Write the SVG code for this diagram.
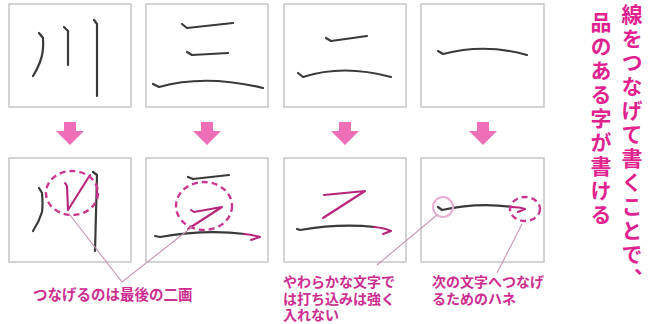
<svg xmlns="http://www.w3.org/2000/svg" width="650" height="324" viewBox="0 0 650 324">
<defs>
<style>
.box{fill:#fff;stroke:#c9c9c9;stroke-width:1.6}
.ink{fill:none;stroke:#3a3a3a;stroke-width:2.2;stroke-linecap:round;stroke-linejoin:round}
.pk{fill:none;stroke:#b8257c;stroke-width:2.1;stroke-linecap:round;stroke-linejoin:round}
.dash{fill:none;stroke:#c8388e;stroke-width:2.4;stroke-dasharray:6 4}
.ring{fill:none;stroke:#e7aed0;stroke-width:2}
.lead{fill:none;stroke:#c795b6;stroke-width:1.1}
.arrow{fill:#ee6fb8}
.lbl{font-family:"Noto Sans CJK JP","Noto Sans",sans-serif;font-size:14px;font-weight:700;fill:#cc2d90}
.lbl1{font-family:"Noto Sans CJK JP","Noto Sans",sans-serif;font-size:14.5px;font-weight:700;fill:#cc2d90}
.title{font-family:"Noto Sans CJK JP","Noto Sans",sans-serif;font-size:21px;font-weight:700;fill:#e0228f;writing-mode:vertical-rl;letter-spacing:3px}
</style>
<g id="downArrow"><rect x="-6" y="0" width="12" height="10" class="arrow"/><polygon points="-14,9 14,9 0,23" class="arrow"/></g>
</defs>
<rect width="650" height="324" fill="#fff"/>

<!-- top row -->
<g id="top1">
<rect class="box" x="9" y="4" width="122" height="103"/>
<path class="ink" d="M39,33 L43,38 Q44,52 40,62 Q37,70 33,76"/>
<path class="ink" d="M64,27 L68,31 L68,65"/>
<path class="ink" d="M94,20 L97,24 L97,96"/>
</g>
<g id="top2">
<rect class="box" x="146" y="4" width="122" height="103"/>
<path class="ink" d="M182,24 L187,28 L233,23"/>
<path class="ink" d="M187,52 L192,55 L228,53"/>
<path class="ink" d="M153,84 L159,87 Q205,74 263,88"/>
</g>
<g id="top3">
<rect class="box" x="284" y="4" width="122" height="103"/>
<path class="ink" d="M326,38 L331,41 L367,36"/>
<path class="ink" d="M298,73 L303,77 Q343,64 391,77"/>
</g>
<g id="top4">
<rect class="box" x="421" y="4" width="123" height="103"/>
<path class="ink" d="M438,51 L443,54 Q485,43 527,55"/>
</g>

<!-- arrows -->
<g id="arrows">
<use href="#downArrow" x="70" y="122"/>
<use href="#downArrow" x="207" y="122"/>
<use href="#downArrow" x="345" y="122"/>
<use href="#downArrow" x="483" y="122"/>
</g>

<!-- bottom row -->
<g id="bottom1">
<rect class="box" x="9" y="158" width="122" height="104"/>
<path class="ink" d="M39,188 L42,193 Q43,205 42,212 Q39,222 33,231"/>
<path class="pk" d="M65,183 L67,186 L68,210 L90,175"/>
<path class="ink" d="M93,172 L97,175 L95,251"/>
<path class="pk" d="M97,188 L97,196" stroke-width="1.5"/>
<ellipse class="dash" cx="72" cy="193" rx="26" ry="22"/>
</g>
<g id="bottom2">
<rect class="box" x="146" y="158" width="122" height="104"/>
<path class="ink" d="M188,177 L193,179 L229,175"/>
<path class="pk" d="M191,210 L194,212 L222,207 L188,229"/>
<path class="ink" d="M155,236 L160,237 Q205,229 245,234"/>
<path class="pk" d="M244,234 Q253,235 260,237 L251,240"/>
<ellipse class="dash" cx="204" cy="206" rx="28" ry="24"/>
</g>
<g id="bottom3">
<rect class="box" x="284" y="158" width="122" height="104"/>
<path class="pk" d="M324,195 L365,191 L323,218"/>
<path class="ink" d="M297,229 L300,230 Q340,223 375,227"/>
<path class="pk" d="M374,227 Q385,228 391,231 L383,234"/>
</g>
<g id="bottom4">
<rect class="box" x="421" y="158" width="123" height="104"/>
<path class="ink" d="M438,207 L442,210 Q478,202 512,207"/>
<path class="pk" d="M511,207 Q520,207 525,209 L518,212"/>
<circle class="ring" cx="443" cy="207" r="10"/>
<ellipse class="dash" cx="525" cy="209" rx="15" ry="12"/>
</g>

<!-- connectors -->
<g id="connectors">
<polyline class="lead" points="70,215 122,282 192,227"/>
<line class="lead" x1="377" y1="265" x2="437" y2="215"/>
<line class="lead" x1="497" y1="273" x2="522" y2="224"/>
</g>

<!-- labels -->
<g id="label1"><text class="lbl1" x="33" y="300">つなげるのは最後の二画</text></g>
<g id="label2">
<text class="lbl" x="283" y="287">やわらかな文字で<tspan x="283" dy="16.5">は打ち込みは強く</tspan><tspan x="283" dy="16.5">入れない</tspan></text>
</g>
<g id="label3">
<text class="lbl" x="432" y="287">次の文字へつなげ<tspan x="432" dy="16.5">るためのハネ</tspan></text>
</g>

<g id="title">
<text class="title" x="632" y="4">線をつなげて書くことで、</text>
<text class="title" x="601" y="12">品のある字が書ける</text>
</g>
</svg>
